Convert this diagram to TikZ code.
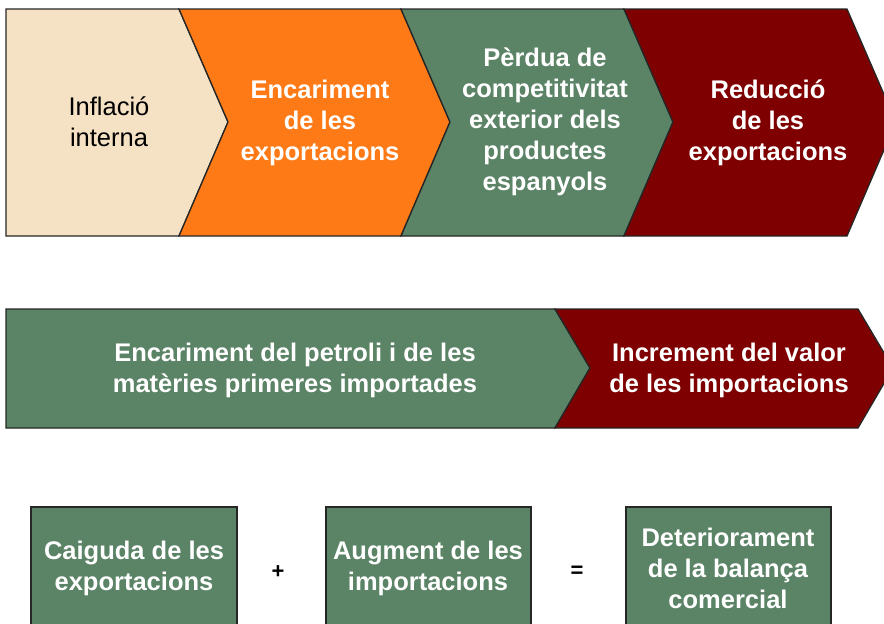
\documentclass[tikz,border=0pt]{standalone}
\usepackage{fontspec}
\setmainfont{Liberation Sans}
\usetikzlibrary{positioning}
\definecolor{wheat}{HTML}{F5E1C3}
\definecolor{orng}{HTML}{FD7A16}
\definecolor{sage}{HTML}{5B8366}
\definecolor{maroon}{HTML}{7F0000}
\tikzset{
  lbl/.style={align=center,text=white,font=\bfseries\fontsize{25.5}{31}\selectfont},
  plain/.style={align=center,text=black,font=\fontsize{25.5}{31}\selectfont},
  sign/.style={text=black,font=\bfseries\fontsize{22}{24}\selectfont},
  edge/.style={draw=black!85,line width=1.3pt,line join=miter},
}

\begin{document}
\begin{tikzpicture}[x=1pt,y=-1pt]
  \useasboundingbox (0,0) rectangle (884,624);
  % top row
  \filldraw[edge,fill=wheat](6,9) -- (179,9) -- (228,122) -- (179,236) -- (6,236) -- cycle;
  \filldraw[edge,fill=orng](179,9) -- (401,9) -- (450,122) -- (401,236) -- (179,236) -- (228,122) -- cycle;
  \filldraw[edge,fill=sage](401,9) -- (624,9) -- (673,122) -- (624,236) -- (401,236) -- (450,122) -- cycle;
  \filldraw[edge,fill=maroon](624,9) -- (847,9) -- (896,122) -- (847,236) -- (624,236) -- (673,122) -- cycle;
  \node[plain] at(109,122)(inflacio){Inflació\\interna};
  \node[lbl] at(320,123)(encariment){Encariment\\de les\\exportacions};
  \node[lbl] at(545,122)(perdua){Pèrdua de\\competitivitat\\exterior dels\\productes\\espanyols};
  \node[lbl] at(768,123)(reduccio){Reducció\\de les\\exportacions};
  % middle row
  \filldraw[edge,fill=sage](6,309) -- (555,309) -- (590,368) -- (555,428) -- (6,428) -- cycle;
  \filldraw[edge,fill=maroon](555,309) -- (858,309) -- (893,368) -- (858,428) -- (555,428) -- (590,368) -- cycle;
  \node[lbl] at(295,370)(petroli){Encariment del petroli i de les\\matèries primeres importades};
  \node[lbl] at(729,370)(increment){Increment del valor\\de les importacions};
  % bottom row
  \filldraw[edge,fill=sage](31,507) rectangle (237,640);
  \filldraw[edge,fill=sage](326,507) rectangle (531,640);
  \filldraw[edge,fill=sage](626,507) rectangle (831,640);
  \node[lbl] at(134,568)(caiguda){Caiguda de les\\exportacions};
  \node[lbl] at(428,568)(augment){Augment de les\\importacions};
  \node[lbl] at(728,568)(deteriorament){Deteriorament\\de la balança\\comercial};
  \node[sign] at(278,572)(plus){+};
  \node[sign] at(577,572)(equals){=};
\end{tikzpicture}
\end{document}
